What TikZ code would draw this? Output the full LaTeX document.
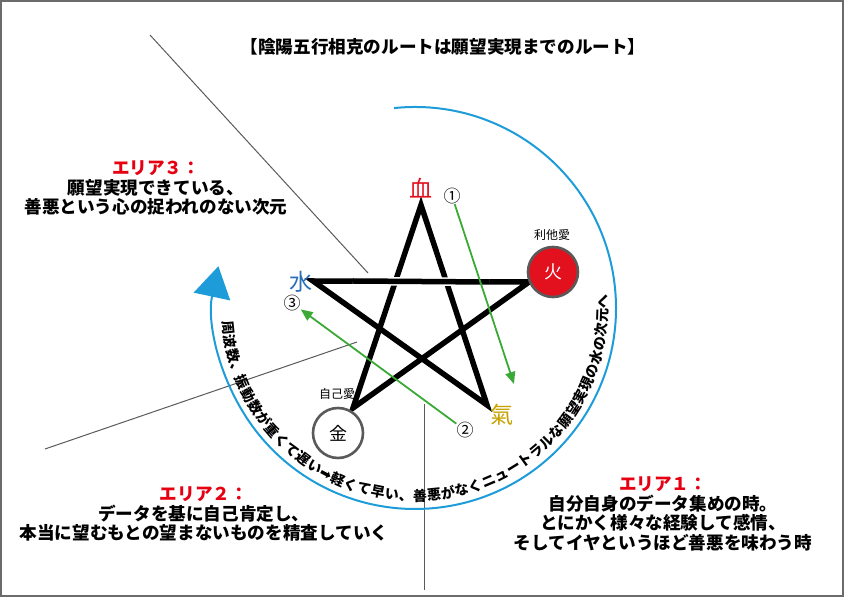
\documentclass[tikz,border=0pt]{standalone}
\usepackage{fontspec}
\newfontfamily\jp{Noto Sans CJK JP}
\newfontfamily\dv{DejaVu Sans}
\usetikzlibrary{arrows.meta,decorations.text}
\definecolor{firered}{HTML}{E3101E}
\definecolor{waterblue}{HTML}{2C6FB7}
\definecolor{kigold}{HTML}{C8A200}
\definecolor{arcblue}{HTML}{1E9CDA}
\definecolor{flowgreen}{HTML}{3BA935}
\definecolor{rimgray}{HTML}{5A5A5A}
\definecolor{areared}{HTML}{E60012}
\newcommand\arcjp{\jp\bfseries\fontsize{14}{14}\selectfont}
\newcommand\arcdv{\dv\bfseries\fontsize{14}{14}\selectfont}
\begin{document}
\begin{tikzpicture}[x=1pt,y=1pt,
    elem/.style={font=\jp\fontsize{23}{23}\selectfont, inner sep=0pt},
    num/.style={font=\jp\fontsize{17}{17}\selectfont, inner sep=0pt},
    love/.style={font=\jp\fontsize{12}{12}\selectfont, inner sep=0pt},
    orb/.style={circle, draw=rimgray, line width=2.6pt, minimum size=50pt,
      inner sep=0pt, font=\jp\fontsize{18}{18}\selectfont},
    area/.style={align=center, font=\jp\bfseries\fontsize{17.6}{19.5}\selectfont},
    flow/.style={flowgreen, line width=1.8pt, -{Triangle[length=12pt,width=10pt]}},
    guide/.style={rimgray, line width=1pt}]
  \useasboundingbox (0,0) rectangle (844,597);
  \draw[rimgray!90, line width=2.4pt] (1.2,1.2) rectangle (842.8,595.8);
  \node[font=\jp\bfseries\fontsize{17.6}{17.6}\selectfont] (title) at (443,550)
    {【陰陽五行相克のルートは願望実現までのルート】};
  \coordinate (ctr) at (415,289);
  \coordinate (st) at (421,392);
  \coordinate (sl) at (313,316);
  \coordinate (sr) at (529,315);
  \coordinate (sbl) at (353,189);
  \coordinate (sbr) at (487,192);
  \coordinate (g1a) at (150,562);
  \coordinate (g1b) at (368,324);
  \coordinate (g2a) at (45,148);
  \coordinate (g2b) at (357,255);
  \coordinate (g3a) at (424,193);
  \coordinate (g3b) at (424,7);
  \draw[guide] (g1a) -- (g1b);
  \draw[guide] (g2a) -- (g2b);
  \draw[guide] (g3a) -- (g3b);
  \draw[arcblue, line width=2pt, -{Triangle[length=31pt,width=37pt]}]
    (ctr) ++(96:201) arc[start angle=96, end angle=-192, radius=201];
  \path[decorate, decoration={text along path, text align={fit to path},
      text={|\arcjp|周波数、振動数が重くて遅い|\arcdv|➡|\arcjp|軽くて早い、善悪がなくニュートラルな願望実現の水の次元へ}}]
    (ctr) ++(-176:193) arc[start angle=-176, end angle=4, radius=193];
  \draw[line width=5.5pt, line join=miter] (st) -- (sbl) -- (sr) -- (sl) -- (sbr) -- cycle;
  \draw[line width=5.5pt, preaction={draw=white, line width=8.5pt}]
    ([xshift=40pt]sl) -- ([xshift=-40pt]sr);
  \node[orb, fill=firered, text=white] (fire) at (553,325) {火};
  \node[orb, fill=white] (metal) at (338,164) {金};
  \node[elem, text=firered] (blood) at (421,409) {血};
  \node[elem, text=waterblue] (water) at (301,315) {水};
  \node[elem, text=kigold] (ki) at (502,182) {氣};
  \node[love] (altru) at (552,362) {利他愛};
  \node[love] (self) at (337,203) {自己愛};
  \node[num] (c1) at (452,401) {①};
  \node[num] (c2) at (465,167) {②};
  \node[num] (c3) at (292,294) {③};
  \coordinate (a1) at (514,213);
  \draw[flow] (c1) -- (a1);
  \draw[flow] (c2) -- (c3);
  \node[area] (area3) at (156,409)
    {\textcolor{areared}{エリア３：}\\願望実現できている、\\善悪という心の捉われのない次元};
  \node[area] (area2) at (204,83)
    {\textcolor{areared}{エリア２：}\\データを基に自己肯定し、\\本当に望むもとの望まないものを精査していく};
  \node[area] (area1) at (663,83)
    {\textcolor{areared}{エリア１：}\\自分自身のデータ集めの時。\\とにかく様々な経験して感情、\\そしてイヤというほど善悪を味わう時};
\end{tikzpicture}
\end{document}
